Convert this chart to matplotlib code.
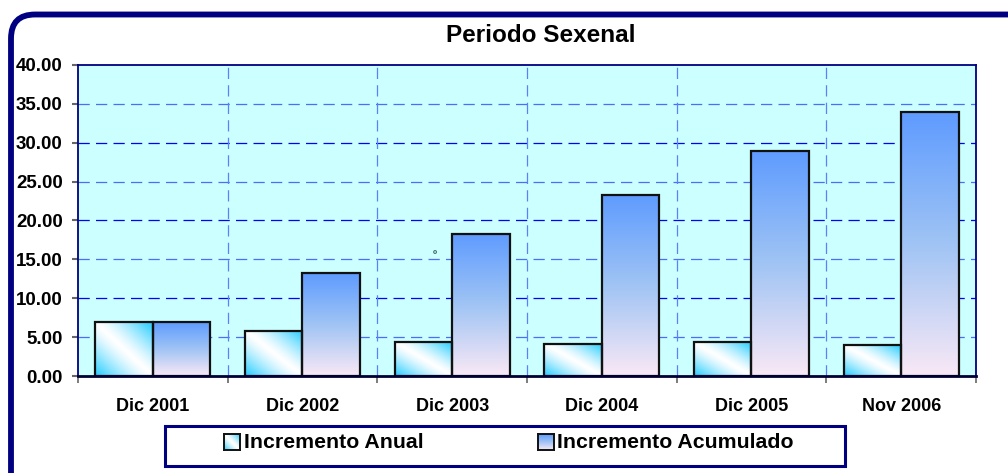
import numpy as np
import matplotlib
matplotlib.use("Agg")
import matplotlib.pyplot as plt
from matplotlib.patches import Rectangle, FancyBboxPatch
from matplotlib.transforms import IdentityTransform

# ---- data ----
categories = ["Dic 2001", "Dic 2002", "Dic 2003", "Dic 2004", "Dic 2005", "Nov 2006"]
incremento_anual = [6.90, 5.80, 4.37, 4.15, 4.37, 3.95]
incremento_acumulado = [6.90, 13.20, 18.30, 23.30, 28.95, 33.95]
series_names = ["Incremento Anual", "Incremento Acumulado"]
y_ticks = [0, 5, 10, 15, 20, 25, 30, 35, 40]
title = "Periodo Sexenal"

plt.rcParams['font.family'] = ['Liberation Sans', 'DejaVu Sans']
plt.rcParams['font.weight'] = 'bold'

W, H = 1008, 473
fig = plt.figure(figsize=(W / 100, H / 100), dpi=100)
fig.patch.set_facecolor('white')

def fx(px):
    return px / W

def fy(py):
    return 1 - py / H

# axes area in pixels: left 78, right 976, top 65, bottom 376
ax = fig.add_axes([fx(78), fy(376), fx(976) - fx(78), fy(65) - fy(376)])
ax.set_facecolor('#CCFFFF')

n = len(categories)
bw = 0.385
cyan = np.array([0x22, 0xCC, 0xFF]) / 255.0
white = np.array([1.0, 1.0, 1.0])
top_blue = np.array([0x5F, 0x9C, 0xFF]) / 255.0
mid_blue = np.array([0xA0, 0xC4, 0xF4]) / 255.0
bot_pink = np.array([0xF8, 0xE8, 0xF6]) / 255.0

# diagonal gradient (anual)
N = 64
u, v = np.meshgrid(np.linspace(0, 1, N), np.linspace(0, 1, N))
t = (u + v) / 2.0
k = np.clip(np.abs(2 * t - 1), 0, 1) ** 1.3
grad_anual = white[None, None, :] * (1 - k[..., None]) + cyan[None, None, :] * k[..., None]

# vertical gradient (acumulado), origin lower: row 0 = bottom
vv = np.linspace(0, 1, N)[:, None]
col = np.where(vv < 0.5,
               bot_pink[None, :] * (1 - vv / 0.5) + mid_blue[None, :] * (vv / 0.5),
               mid_blue[None, :] * (1 - (vv - 0.5) / 0.5) + top_blue[None, :] * ((vv - 0.5) / 0.5))
grad_acum = np.repeat(col[:, None, :], 8, axis=1)

for i in range(n):
    c = i + 0.5
    # anual bar
    h = incremento_anual[i]
    r = Rectangle((c - bw, 0), bw, h, facecolor='none', edgecolor='#111111', linewidth=1.6, zorder=4)
    ax.add_patch(r)
    im = ax.imshow(grad_anual, extent=[c - bw, c, 0, h], origin='lower', aspect='auto', zorder=3,
                   interpolation='bilinear')
    im.set_clip_path(r)
    # acumulado bar
    h2 = incremento_acumulado[i]
    r2 = Rectangle((c, 0), bw, h2, facecolor='none', edgecolor='#111111', linewidth=1.6, zorder=4)
    ax.add_patch(r2)
    im2 = ax.imshow(grad_acum, extent=[c, c + bw, 0, h2], origin='lower', aspect='auto', zorder=3,
                    interpolation='bilinear')
    im2.set_clip_path(r2)

ax.set_xlim(0, n)
ax.set_ylim(0, 40)

# gridlines
for yv in y_ticks[1:-1]:
    colr = '#0000FF' if yv % 10 == 0 else '#4A6CFF'
    ax.axhline(yv, color=colr, linewidth=0.9, linestyle=(0, (9, 5)), zorder=1)
for xv in range(1, n):
    ax.axvline(xv, color='#5A80FF', linewidth=0.9, linestyle=(0, (9, 5)), zorder=1)

# ticks
ax.set_yticks(y_ticks)
ax.set_yticklabels([f"{v:.2f}" for v in y_ticks], fontsize=13.5, fontweight='bold')
ax.tick_params(axis='y', direction='out', length=4, width=1.5, color='#666666', pad=7)
ax.set_xticks([i + 0.5 for i in range(n)])
ax.set_xticklabels(categories, fontsize=13, fontweight='bold')
ax.set_xticks(list(range(0, n + 1)), minor=True)
ax.tick_params(axis='x', which='major', length=0, pad=16)
ax.tick_params(axis='x', which='minor', direction='out', length=5, width=1.2, color='#666666')

for s in ['left', 'top', 'right']:
    ax.spines[s].set_color('#000080')
    ax.spines[s].set_linewidth(1.3)
ax.spines['bottom'].set_color('#000033')
ax.spines['bottom'].set_linewidth(2.0)
ax.spines['bottom'].set_zorder(6)

# stray small mark in the reference
ax.text(2.385, 15.6, 'º', fontsize=8, color='#335555', ha='center', va='center', zorder=5)

# title
fig.text(fx(541), fy(35), title, fontsize=17.5, fontweight='bold', ha='center', va='center')

# outer rounded border (pixel coordinates, origin bottom-left)
border = FancyBboxPatch((11, -40), 1100, (H - 14.5) + 40,
                        boxstyle="round,pad=0,rounding_size=24",
                        transform=IdentityTransform(), facecolor='none',
                        edgecolor='#000080', linewidth=4.2, zorder=0)
fig.patches.append(border)

# legend box
leg = Rectangle((fx(165), fy(466)), fx(845) - fx(165), fy(426) - fy(466), transform=fig.transFigure,
                facecolor='white', edgecolor='#000080', linewidth=2.2, zorder=1)
fig.patches.append(leg)

# legend patches with gradients
for (px0, txt_x, grad, name) in [(224, 244, grad_anual, series_names[0]),
                                 (538, 557, grad_acum, series_names[1])]:
    lax = fig.add_axes([fx(px0), fy(450), fx(16), 16 / H])
    lax.set_zorder(10)
    lax.imshow(grad, origin='lower', aspect='auto', extent=[0, 1, 0, 1], interpolation='bilinear')
    lax.set_xticks([])
    lax.set_yticks([])
    for s in lax.spines.values():
        s.set_color('#111111')
        s.set_linewidth(1.4)
    fig.text(fx(txt_x), fy(443), name, fontsize=15.3, fontweight='bold', ha='left', va='center')

fig.savefig('out.png', dpi=100)
